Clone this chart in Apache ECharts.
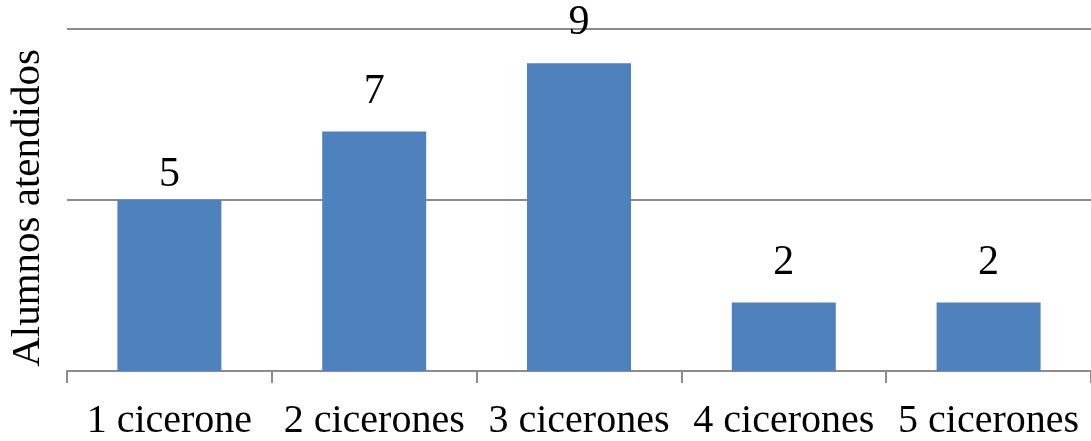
<!DOCTYPE html>
<html>
<head>
<meta charset="utf-8">
<script src="https://cdn.jsdelivr.net/npm/echarts@6/dist/echarts.min.js"></script>
<style>
  html, body { margin: 0; padding: 0; background: #fff; }
  #chart { width: 1091px; height: 441px; }
</style>
</head>
<body>
<div id="chart"></div>
<script>
// Alumnos atendidos según el número de cicerones
const categories = ['1 cicerone', '2 cicerones', '3 cicerones', '4 cicerones', '5 cicerones'];
const alumnos = [5, 7, 9, 2, 2];
const yTicks = [0, 5, 10];

const serif = '"Liberation Serif", "Times New Roman", serif';
const chart = echarts.init(document.getElementById('chart'));

// the first bar's label sits closer to its bar
const labelDistance = [4, 19, 19, 19, 19];

chart.setOption({
  animation: false,
  grid: { left: 66, top: 29, width: 1031, height: 343, containLabel: false },
  xAxis: {
    type: 'category',
    data: categories,
    boundaryGap: true,
    axisLine: { show: true, lineStyle: { color: '#8c8c8c', width: 2 } },
    axisTick: { show: true, length: 12, alignWithLabel: false, lineStyle: { color: '#8c8c8c', width: 2 } },
    axisLabel: { color: '#000', fontFamily: serif, fontSize: 40, margin: 30, interval: 0 }
  },
  yAxis: {
    type: 'value',
    min: yTicks[0],
    max: yTicks[yTicks.length - 1],
    interval: yTicks[1] - yTicks[0],
    name: 'Alumnos atendidos',
    nameLocation: 'middle',
    nameRotate: 90,
    nameGap: 18,
    nameTextStyle: { color: '#000', fontFamily: serif, fontSize: 41, padding: [0, 16, 0, 0] },
    axisLine: { show: false },
    axisTick: { show: false },
    axisLabel: { show: false },
    splitLine: { show: true, lineStyle: { color: '#8c8c8c', width: 2 } }
  },
  series: [{
    type: 'bar',
    barWidth: 104,
    data: alumnos.map((v, i) => ({ value: v, label: { distance: labelDistance[i] } })),
    itemStyle: { color: '#4f81bd' },
    label: {
      show: true,
      position: 'top',
      color: '#000',
      fontFamily: serif,
      fontSize: 42
    }
  }]
});
</script>
</body>
</html>
